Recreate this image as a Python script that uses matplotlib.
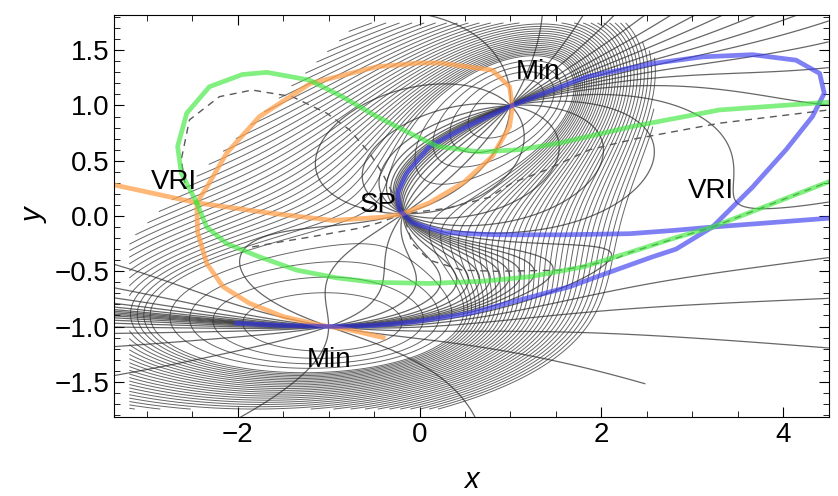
import numpy as np
import matplotlib
matplotlib.use("Agg")
import matplotlib.pyplot as plt
from matplotlib.path import Path

plt.rcParams["font.family"] = ["Liberation Sans", "DejaVu Sans"]

# stationary points
min_a = (1.0, 1.0)
min_b = (-1.0, -1.0)
saddle = (-0.18, 0.02)

# curves
orange_x = [-3.35, -2.45, -1.68, -0.95, -0.4, -0.18, 0.11, 0.48, 0.8, 0.99, 1.02, 0.99, 0.8, 0.22,
            0.0, -0.47, -1.2, -1.76, -2.12, -2.34, -2.45, -2.44, -2.34, -2.16, -1.87, -1.5, -1.13,
            -1.0, -0.77, -0.4]
orange_y = [0.28, 0.12, 0.03, -0.04, -0.01, 0.02, 0.12, 0.3, 0.54, 0.81, 0.99, 1.17, 1.32, 1.385,
            1.385, 1.35, 1.2, 0.9, 0.57, 0.26, 0.12, -0.15, -0.43, -0.64, -0.79, -0.91, -0.98,
            -1.0, -1.03, -1.1]

blue_x = [-2.01, -1.5, -1.0, -0.5, -0.08, 0.55, 1.1, 1.65, 2.05, 2.56, 2.82, 3.22, 3.66, 4.03, 4.32,
          4.45, 4.4, 4.14, 3.66, 3.11, 2.56, 1.84, 1.02, 0.52, 0.11, -0.14, -0.24, -0.22, -0.18,
          -0.08, 0.27, 0.84, 1.57, 2.31, 2.8, 3.22, 4.5]
blue_y = [-0.97, -0.99, -1.0, -0.99, -0.96, -0.88, -0.76, -0.64, -0.52, -0.37, -0.3, -0.1, 0.26,
          0.6, 0.9, 1.11, 1.29, 1.41, 1.46, 1.44, 1.38, 1.26, 1.0, 0.81, 0.63, 0.39, 0.21, 0.05,
          0.02, -0.06, -0.15, -0.17, -0.17, -0.16, -0.13, -0.1, -0.02]

green_up_x = [-2.45, -2.62, -2.66, -2.56, -2.31, -1.95, -1.68, -1.21, -0.85, -0.47, -0.11, 0.2,
              0.66, 1.1, 1.54, 2.34, 3.3, 4.5]
green_up_y = [0.12, 0.39, 0.63, 0.93, 1.17, 1.28, 1.3, 1.23, 1.08, 0.9, 0.75, 0.63, 0.58, 0.6,
              0.66, 0.81, 0.96, 1.03]
green_lo_x = [-2.45, -2.34, -2.12, -1.76, -1.35, -0.91, -0.5, 0.11, 0.7, 1.21, 1.8, 2.31, 2.8,
              3.22, 4.5]
green_lo_y = [0.12, -0.1, -0.25, -0.37, -0.49, -0.56, -0.6, -0.61, -0.59, -0.55, -0.46, -0.33,
              -0.2, -0.1, 0.31]

dash_a_x = [-2.58, -2.62, -2.53, -2.2, -1.84, -1.4, -1.02, -0.77, -0.55, -0.41, -0.28, -0.18,
            -0.08, 0.11, 0.47, 0.84, 1.57, 2.12, 2.31, 3.22, 4.5]
dash_a_y = [0.3, 0.51, 0.87, 1.08, 1.14, 1.08, 0.93, 0.78, 0.57, 0.39, 0.18, 0.02, -0.25, -0.4,
            -0.49, -0.5, -0.49, -0.4, -0.33, -0.1, 0.31]
dash_b_x = [-1.84, -1.5, -1.2, -0.66, -0.44, -0.18, 0.3, 0.77, 1.02, 1.4, 1.87, 2.38, 3.3, 4.5]
dash_b_y = [-0.28, -0.23, -0.19, -0.11, -0.06, 0.02, 0.07, 0.17, 0.3, 0.42, 0.6, 0.7, 0.84, 0.96]

labels = [("Min", 1.3, 1.3), ("Min", -1.0, -1.3), ("SP", -0.45, 0.1),
          ("VRI", -2.7, 0.31), ("VRI", 3.2, 0.23)]

# outline of the area where the level lines are drawn
clip_x = [-3.2, -3.2, -0.68, 2.3, 2.62, 2.55, 2.3, 1.9, 1.2, -3.2]
clip_y = [-1.75, -0.22, 1.75, 1.75, 1.4, 0.6, -0.3, -1.0, -1.75, -1.75]

# angles of the search directions of the Newton trajectories (degrees)
nt_angles = [0, 4, 8, 13, 19, 26, 34, 45, 60, 75, 90, 105, 120, 135, 148, 158, 166, 172, 176]


def quad(dx, dy, ang, soft, hard):
    c, s = np.cos(ang), np.sin(ang)
    u = c * dx + s * dy
    v = -s * dx + c * dy
    return soft * u ** 2 + hard * v ** 2


def base(x, y):
    q1 = quad(x - min_a[0], y - min_a[1], np.radians(22), 0.5, 2.0)
    q2 = quad(x - min_b[0], y - min_b[1], 0.0, 0.12, 1.5)
    return q1 * q2


def grad(f, x, y, h=1e-5):
    return ((f(x + h, y) - f(x - h, y)) / (2 * h),
            (f(x, y + h) - f(x, y - h)) / (2 * h))


# exponential tilt that moves the saddle to where the picture has it
gx, gy = grad(base, *saddle)
p = -np.array([gx, gy]) / base(*saddle)


def pot(x, y):
    return base(x, y) * np.exp(p[0] * x + p[1] * y)


xs = np.linspace(-3.36, 4.5, 700)
ys = np.linspace(-1.82, 1.82, 400)
X, Y = np.meshgrid(xs, ys)
V = pot(X, Y)
Vx, Vy = grad(pot, X, Y)
v_sp = pot(*saddle)

fig, ax = plt.subplots(figsize=(8.38, 4.96), dpi=100)
fig.subplots_adjust(left=0.136, right=0.989, top=0.97, bottom=0.159)

inside = Path(np.column_stack([clip_x, clip_y])).contains_points(
    np.column_stack([X.ravel(), Y.ravel()])).reshape(X.shape)
Vc = np.ma.masked_where(~inside, V)
levels = np.concatenate([np.linspace(0.25, 0.85, 4), np.geomspace(1.08, 10.0, 32)]) * v_sp
ax.contour(X, Y, Vc, levels=levels, colors="0.2", linewidths=0.7, alpha=0.75)

nt_off = (Y > 0.785 * X + 2.4) | ((Y < -1.52) & (X > 1.0))
for deg in nt_angles:
    phi = np.radians(deg)
    F = np.ma.masked_where(nt_off, Vx * np.sin(phi) - Vy * np.cos(phi))
    ax.contour(X, Y, F, levels=[0], colors="0.15", linewidths=0.9, alpha=0.7)

ax.plot(dash_a_x, dash_a_y, color="0.35", lw=1.0, ls=(0, (5, 4)))
ax.plot(dash_b_x, dash_b_y, color="0.35", lw=1.0, ls=(0, (5, 4)))
ax.plot(orange_x, orange_y, color="#ffa04a", lw=3.4, alpha=0.75)
ax.plot(blue_x, blue_y, color="#3c3cf0", lw=3.4, alpha=0.65)
ax.plot(green_up_x, green_up_y, color="#3de83d", lw=3.4, alpha=0.65)
ax.plot(green_lo_x, green_lo_y, color="#3de83d", lw=3.4, alpha=0.65)

for txt, tx, ty in labels:
    ax.text(tx, ty, txt, fontsize=20, ha="center", va="center")

ax.set_xlim(-3.36, 4.5)
ax.set_ylim(-1.82, 1.82)
ax.set_xticks([-2, 0, 2, 4])
ax.set_xticklabels(["\u22122", "0", "2", "4"])
ax.set_xticks(np.arange(-3, 4.6, 0.5), minor=True)
ax.set_yticks([-1.5, -1.0, -0.5, 0.0, 0.5, 1.0, 1.5])
ax.set_yticklabels(["\u22121.5", "\u22121.0", "\u22120.5", "0.0", "0.5", "1.0", "1.5"])
ax.set_yticks(np.arange(-1.8, 1.81, 0.1), minor=True)
ax.tick_params(which="both", direction="in", top=True, right=True, labelsize=20)
ax.tick_params(which="major", length=7)
ax.tick_params(which="minor", length=4)
ax.set_xlabel("x", fontsize=21, style="italic", labelpad=13)
ax.set_ylabel("y", fontsize=21, style="italic", labelpad=4)

fig.savefig("out.png")
